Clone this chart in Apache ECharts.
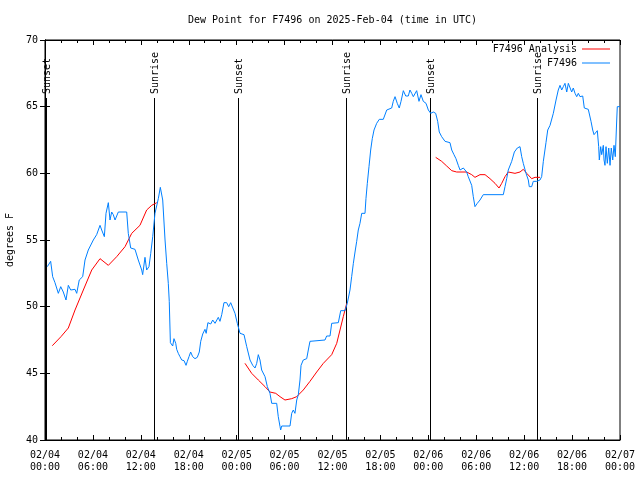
<!DOCTYPE html>
<html>
<head>
<meta charset="utf-8">
<script src="https://cdn.jsdelivr.net/npm/echarts@6/dist/echarts.min.js"></script>
<style>html,body{margin:0;padding:0;background:#fff}#c{width:640px;height:480px}</style>
</head>
<body>
<div id="c"></div>
<script>
var FONT = '"DejaVu Sans Mono", "Liberation Mono", monospace';
var titleText = 'Dew Point for F7496 on 2025-Feb-04 (time in UTC)';
var obsName = 'F7496';
var anaName = 'F7496 Analysis';

// hours since 2025-02-04 00:00 UTC
var obsHours = [0.29,0.71,0.96,1.25,1.67,1.97,2.29,2.63,2.92,3.22,3.76,3.97,4.29,4.72,5.01,5.42,6.05,6.47,6.89,7.10,7.43,7.64,7.93,8.14,8.35,8.55,8.77,9.18,10.23,10.43,10.73,11.27,11.68,12.11,12.23,12.52,12.73,13.02,13.24,13.49,13.77,14.19,14.44,14.74,15.03,15.24,15.44,15.56,15.70,15.99,16.15,16.37,16.49,16.69,16.90,17.12,17.41,17.66,17.82,18.03,18.24,18.49,18.78,19.07,19.32,19.50,19.75,20.03,20.18,20.40,20.60,20.75,21.00,21.29,21.70,21.91,22.13,22.41,22.75,23.00,23.25,23.50,23.79,24.08,24.42,24.92,25.26,25.67,26.01,26.30,26.51,26.71,26.92,27.13,27.55,27.84,28.17,28.39,28.59,29.01,29.21,29.43,29.51,29.64,30.68,30.89,31.09,31.30,31.52,31.72,31.93,32.06,32.34,32.77,32.97,33.18,35.06,35.27,35.69,35.90,36.73,37.03,37.57,37.85,38.19,38.40,38.61,38.82,39.03,39.23,39.44,39.66,40.07,40.19,40.36,40.57,40.78,40.98,41.20,41.53,41.86,42.36,42.79,43.41,43.61,43.83,44.11,44.36,44.58,44.87,45.17,45.49,45.70,45.92,46.12,46.54,46.83,47.08,47.37,47.71,48.00,48.30,48.62,48.92,49.17,49.37,49.67,49.87,50.09,50.71,50.93,51.21,51.46,51.75,51.97,52.18,52.38,52.80,53.00,53.22,53.43,53.63,53.84,54.13,54.47,54.88,57.39,57.60,57.81,58.01,58.44,58.77,58.98,59.14,59.48,59.69,59.89,60.23,60.52,60.64,60.94,61.14,61.57,61.98,62.19,62.40,62.73,62.95,63.24,63.65,63.99,64.27,64.49,64.70,64.90,65.11,65.33,65.53,65.74,65.95,66.15,66.37,66.58,66.78,66.99,67.33,67.53,68.03,68.24,68.37,68.58,68.75,68.99,69.16,69.33,69.41,69.58,69.71,69.91,70.00,70.12,70.25,70.41,70.59,70.75,70.91,71.09,71.25,71.41,71.59,71.66,72.00];
var obsValues = [53.0,53.4,52.25,51.8,51.0,51.5,51.1,50.5,51.6,51.25,51.3,51.0,52.0,52.25,53.5,54.25,55.0,55.4,56.1,55.75,55.25,57.0,57.8,56.5,57.1,56.9,56.5,57.1,57.1,55.5,54.4,54.3,53.5,52.75,52.4,53.7,52.75,53.0,54.0,55.25,57.0,58.1,58.95,58.0,55.0,53.25,51.75,50.4,47.3,47.05,47.6,47.25,46.8,46.5,46.25,46.0,45.95,45.6,45.9,46.25,46.6,46.25,46.1,46.2,46.6,47.4,47.95,48.3,48.0,48.8,48.95,48.7,49.0,48.75,49.2,48.9,49.4,50.3,50.3,50.0,50.3,50.3,49.5,48.75,48.0,47.9,47.0,46.0,45.6,45.4,45.75,46.4,46.0,45.25,44.75,44.0,43.5,42.75,42.6,42.75,41.75,41.0,40.75,41.05,41.05,42.0,42.25,42.0,43.0,43.4,44.5,45.6,46.0,46.1,46.75,47.4,47.5,47.8,47.8,48.75,48.8,49.7,49.7,50.25,51.25,52.25,53.25,54.1,54.9,55.75,56.25,57.0,57.0,58.1,59.25,60.5,61.75,62.6,63.25,63.75,64.05,64.05,64.75,64.9,65.4,65.75,65.25,64.9,65.4,66.2,65.8,65.8,66.25,66.0,65.75,66.2,65.4,65.9,65.4,65.25,64.75,64.5,64.6,64.5,63.9,63.1,62.75,62.9,62.4,62.3,61.75,61.4,61.1,60.6,60.25,60.4,60.4,60.1,59.75,59.75,59.1,58.25,57.5,57.75,58.0,58.4,58.4,59.0,59.6,60.25,60.9,61.6,61.5,61.9,62.0,61.25,60.75,60.0,59.5,59.0,59.0,59.4,59.4,59.5,59.75,60.9,62.3,63.25,63.6,64.5,65.5,66.25,66.6,66.25,66.5,66.75,66.1,66.75,66.9,66.1,66.4,66.0,65.75,66.0,65.75,65.8,64.9,64.8,64.75,63.9,63.25,62.9,63.0,63.2,62.0,61.0,62.0,61.4,62.1,61.0,60.6,62.0,60.75,61.9,60.6,61.9,61.0,62.1,61.25,64.0,65.0,65.0];

// analysis: null marks a break between segments
var anaHours = [0.91,2.00,2.92,3.76,4.80,5.85,6.89,7.93,8.98,10.02,10.86,11.89,12.73,13.36,13.99,
  19.5,
  25.04,25.88,26.71,27.55,28.17,28.89,29.43,30.05,30.89,31.52,32.34,33.18,34.02,34.85,35.90,36.53,36.94,37.35,37.78,
  43.0,
  48.92,49.67,50.30,50.93,51.55,52.80,53.43,53.84,54.47,55.10,55.72,56.35,56.85,57.19,57.60,58.01,58.85,59.48,59.89,60.32,60.94,61.36,61.98];
var anaValues = [47.07,47.75,48.4,49.75,51.25,52.75,53.6,53.1,53.75,54.5,55.5,56.1,57.25,57.6,57.8,
  null,
  45.75,45.0,44.5,44.0,43.6,43.5,43.25,43.0,43.1,43.25,43.75,44.4,45.1,45.75,46.4,47.25,48.25,49.25,50.25,
  null,
  61.2,60.9,60.55,60.2,60.1,60.1,59.9,59.7,59.9,59.9,59.6,59.25,58.9,59.25,59.75,60.1,60.0,60.1,60.3,60.0,59.6,59.7,59.7];

var sunHours = [0.15, 13.67, 24.17, 37.65, 48.18, 61.63];
var sunLabels = ['Sunset', 'Sunrise', 'Sunset', 'Sunrise', 'Sunset', 'Sunrise'];

var yMin = 40, yMax = 70, yStep = 5;
var xMin = 0, xMax = 72, xStep = 6;
var sunLineTop = 65.65, sunTextBase = 65.95;

function pairs(h, v) {
  var out = [];
  for (var i = 0; i < h.length; i++) out.push([h[i], v[i] === null ? '-' : v[i]]);
  return out;
}
function pad(n) { return (n < 10 ? '0' : '') + n; }
function xLabel(v) {
  var day = 4 + Math.floor(v / 24);
  var hr = Math.round(v % 24);
  return '02/' + pad(day) + '\n' + pad(hr) + ':00';
}

var chart = echarts.init(document.getElementById('c'), null, {renderer: 'canvas'});
var axisText = {color: '#000', fontFamily: FONT, fontSize: 10};
chart.setOption({
  animation: false,
  backgroundColor: '#fff',
  title: {
    text: titleText, left: 183, top: 10,
    textStyle: {fontFamily: FONT, fontSize: 10, fontWeight: 'normal', color: '#000'}
  },
  legend: {
    orient: 'vertical', right: 25, top: 38, align: 'right',
    itemWidth: 28, itemHeight: 1, itemGap: 2,
    textStyle: {fontFamily: FONT, fontSize: 10, color: '#000', lineHeight: 12},
    data: [{name: anaName, icon: 'rect'}, {name: obsName, icon: 'rect'}]
  },
  grid: {left: 45, right: 20, top: 40, bottom: 40, containLabel: false, outerBoundsMode: 'none',
         show: true, borderColor: '#000', borderWidth: 1},
  xAxis: [{
    type: 'value', min: xMin, max: xMax, interval: xStep, position: 'bottom',
    axisLine: {show: true, lineStyle: {color: '#000', width: 1}},
    axisTick: {show: true, inside: true, length: 5, lineStyle: {color: '#000'}},
    minorTick: {show: true, splitNumber: 3, length: 3, lineStyle: {color: '#000'}},
    splitLine: {show: false},
    axisLabel: Object.assign({margin: 9, lineHeight: 12, formatter: xLabel}, axisText)
  }, {
    type: 'value', min: xMin, max: xMax, interval: xStep, position: 'top',
    axisLine: {show: true, lineStyle: {color: '#000', width: 1}},
    axisTick: {show: true, inside: true, length: 5, lineStyle: {color: '#000'}},
    minorTick: {show: true, splitNumber: 3, length: 3, lineStyle: {color: '#000'}},
    splitLine: {show: false},
    axisLabel: {show: false}
  }],
  yAxis: [{
    type: 'value', min: yMin, max: yMax, interval: yStep, position: 'left',
    name: 'degrees F', nameLocation: 'middle', nameGap: 30,
    nameTextStyle: {fontFamily: FONT, fontSize: 10, color: '#000'},
    axisLine: {show: true, lineStyle: {color: '#000', width: 1}},
    axisTick: {show: true, inside: true, length: 5, lineStyle: {color: '#000'}},
    splitLine: {show: false},
    axisLabel: Object.assign({margin: 7}, axisText)
  }, {
    type: 'value', min: yMin, max: yMax, interval: yStep, position: 'right',
    axisLine: {show: true, lineStyle: {color: '#000', width: 1}},
    axisTick: {show: true, inside: true, length: 5, lineStyle: {color: '#000'}},
    splitLine: {show: false},
    axisLabel: {show: false}
  }],
  series: [{
    type: 'custom', name: 'sun', silent: true, clip: false,
    data: sunHours.map(function (h) { return [h, yMin]; }),
    encode: {x: 0, y: 1},
    renderItem: function (params, api) {
      var h = api.value(0);
      var p0 = api.coord([h, yMin]);
      var p1 = api.coord([h, sunLineTop]);
      var pt = api.coord([h, sunTextBase]);
      var x = Math.round(p0[0]) + 0.5;
      return {
        type: 'group',
        children: [{
          type: 'line',
          shape: {x1: x, y1: p0[1], x2: x, y2: p1[1]},
          style: {stroke: '#000', lineWidth: 1}
        }, {
          type: 'text', x: x + 1, y: pt[1], rotation: Math.PI / 2,
          style: {text: sunLabels[params.dataIndex], fill: '#000', font: '10px ' + FONT,
                  align: 'left', verticalAlign: 'middle'}
        }]
      };
    }
  }, {
    type: 'line', name: anaName, data: pairs(anaHours, anaValues),
    showSymbol: false, connectNulls: false,
    lineStyle: {color: '#ff0000', width: 1}, itemStyle: {color: '#ff0000'}
  }, {
    type: 'line', name: obsName, data: pairs(obsHours, obsValues),
    showSymbol: false,
    lineStyle: {color: '#0080ff', width: 1}, itemStyle: {color: '#0080ff'}
  }]
});
</script>
</body>
</html>
